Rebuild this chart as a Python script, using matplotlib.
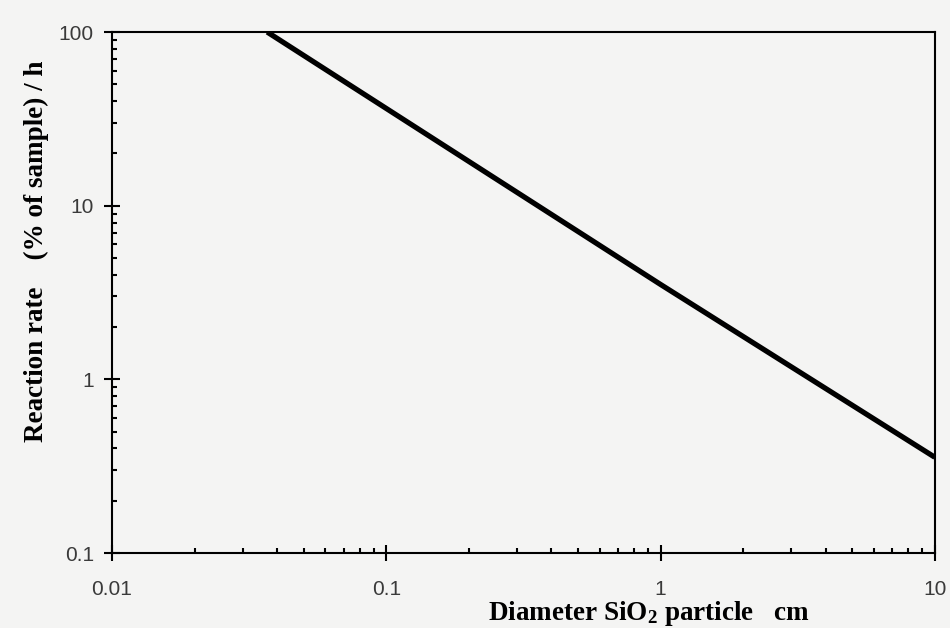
import matplotlib
matplotlib.use("Agg")
import matplotlib.pyplot as plt
from matplotlib.ticker import LogLocator, NullFormatter, FixedLocator, FixedFormatter

# Data
diameter_cm = [0.0368, 0.1, 1.0, 10.0]
rate_pct_h = [100.0, 36.3, 3.52, 0.356]

x_ticks = [0.01, 0.1, 1, 10]
x_tick_labels = ["0.01", "0.1", "1", "10"]
y_ticks = [0.1, 1, 10, 100]
y_tick_labels = ["0.1", "1", "10", "100"]

plt.rcParams['mathtext.fontset'] = 'custom'
plt.rcParams['mathtext.rm'] = 'Liberation Serif:bold'
plt.rcParams['mathtext.it'] = 'Liberation Serif:bold'
plt.rcParams['mathtext.bf'] = 'Liberation Serif:bold'

bg = '#f4f4f3'
fig = plt.figure(figsize=(9.5, 6.28), dpi=100, facecolor=bg)
ax = fig.add_axes([0.1179, 0.1194, 0.8661, 0.8296])
ax.set_facecolor(bg)

ax.plot(diameter_cm, rate_pct_h, color='black', lw=3.8, solid_capstyle='butt')

ax.set_xscale('log')
ax.set_yscale('log')
ax.set_xlim(0.01, 10)
ax.set_ylim(0.1, 100)

ax.xaxis.set_major_locator(FixedLocator(x_ticks))
ax.xaxis.set_major_formatter(FixedFormatter(x_tick_labels))
ax.yaxis.set_major_locator(FixedLocator(y_ticks))
ax.yaxis.set_major_formatter(FixedFormatter(y_tick_labels))
ax.xaxis.set_minor_locator(LogLocator(base=10, subs=range(2, 10)))
ax.yaxis.set_minor_locator(LogLocator(base=10, subs=range(2, 10)))
ax.xaxis.set_minor_formatter(NullFormatter())
ax.yaxis.set_minor_formatter(NullFormatter())

ax.tick_params(axis='both', which='major', direction='inout', length=11, width=1.5,
               labelsize=15, labelcolor='#3a3a3a', top=False, right=False)
ax.tick_params(axis='x', which='major', pad=14)
ax.tick_params(axis='y', which='major', pad=7.5)
ax.tick_params(axis='both', which='minor', direction='in', length=3.8, width=1.5,
               top=False, right=False)
for lab in ax.get_xticklabels() + ax.get_yticklabels():
    lab.set_fontfamily('Liberation Sans')

for s in ax.spines.values():
    s.set_linewidth(1.5)
    s.set_color('black')

ax.set_xlabel(r"Diameter SiO$_2$ particle   cm", fontfamily='Liberation Serif',
              fontweight='bold', fontsize=19.5)
ax.xaxis.set_label_coords(0.652, -0.088)
ax.set_ylabel("Reaction rate    (% of sample) / h", fontfamily='Liberation Serif',
              fontweight='bold', fontsize=19.5)
ax.yaxis.set_label_coords(-0.077, 0.58)

fig.savefig("out.png", dpi=100, facecolor=bg)
